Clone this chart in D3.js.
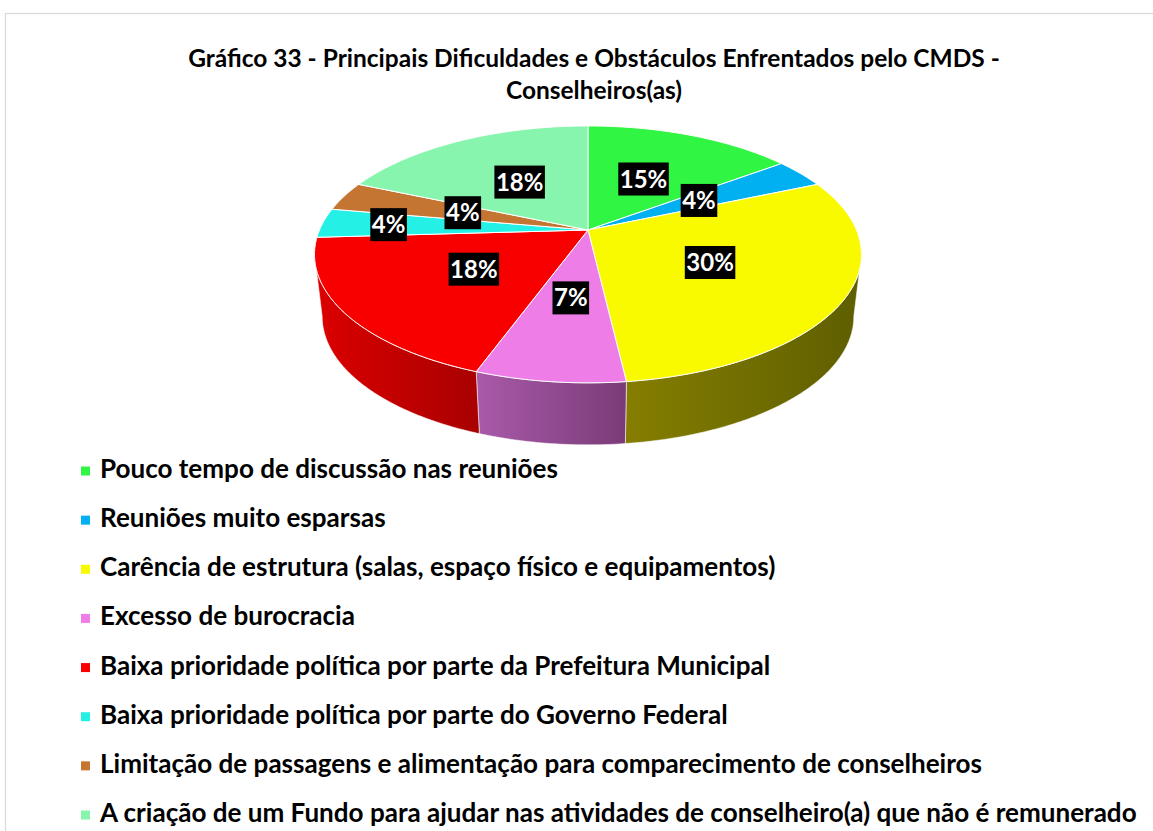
<!DOCTYPE html>
<html>
<head>
<meta charset="utf-8">
<script src="https://cdn.jsdelivr.net/npm/d3@7"></script>
<style>
  html, body { margin: 0; padding: 0; background: #ffffff; }
  svg { display: block; }
  text { font-family: Lato, "Open Sans", "Liberation Sans", sans-serif; font-weight: 700; }
</style>
</head>
<body>
<svg id="chart" width="1153" height="831"></svg>
<script>
// ---------- data ----------
const titleLines = [
  "Gráfico 33 - Principais Dificuldades e Obstáculos Enfrentados pelo CMDS -",
  "Conselheiros(as)"
];
const categories = [
  "Pouco tempo de discussão nas reuniões",
  "Reuniões muito esparsas",
  "Carência de estrutura (salas, espaço físico e equipamentos)",
  "Excesso de burocracia",
  "Baixa prioridade política por parte da Prefeitura Municipal",
  "Baixa prioridade política por parte do Governo Federal",
  "Limitação de passagens e alimentação para comparecimento de conselheiros",
  "A criação de um Fundo para ajudar nas atividades de conselheiro(a) que não é remunerado"
];
// slice sizes (percent)
const values = [14.8, 3.7, 29.6, 7.4, 18.5, 3.7, 3.7, 18.5];
// data-label texts as printed on the chart
const valueLabels = ["15%", "4%", "30%", "7%", "18%", "4%", "4%", "18%"];

// ---------- styles ----------
const topColors = ["#30f542", "#00b0f0", "#f9f900", "#ee7de8", "#f80000", "#24f0e6", "#c47532", "#87f5ad"];
const sideLight = ["#22b030", "#0080b0", "#857e00", "#a95aa9", "#dc0000", "#18b0a8", "#905520", "#60b080"];
const sideDark  = ["#187a20", "#005a7a", "#5e5e00", "#7a3b78", "#a80000", "#107a74", "#643a16", "#407a58"];

const svg = d3.select("#chart");

// chart border
svg.append("rect")
  .attr("x", 5.5).attr("y", 13.5)
  .attr("width", 1160).attr("height", 840)
  .attr("fill", "#ffffff")
  .attr("stroke", "#d9d9d9").attr("stroke-width", 1.2);

// ---------- title ----------
const title = svg.append("g");
const t1 = title.append("text")
  .attr("x", 594).attr("y", 67)
  .attr("text-anchor", "middle")
  .attr("font-size", 20)
  .attr("fill", "#000")
  .text(titleLines[0]);
const tw = t1.node().getComputedTextLength();
const titleSize = 20 * 812 / tw;
t1.attr("font-size", titleSize);
title.append("text")
  .attr("x", 594).attr("y", 99)
  .attr("text-anchor", "middle")
  .attr("font-size", titleSize)
  .attr("fill", "#000")
  .text(titleLines[1]);

// ---------- 3D pie ----------
const cx = 588, cy = 230, a = 268.5, b = 123.8, p = 0.19;
const thick = 62, bottomScale = 0.972;

function projTop(r, phi) {
  const u = r * Math.sin(phi), v = -r * Math.cos(phi);
  const w = 1 - p * v;
  return [cx + a * u / w, cy + b * v / w];
}
function projBottom(r, phi) {
  const [x, y] = projTop(r, phi);
  return [cx + (x - cx) * bottomScale, y + thick];
}

const pie = d3.pie().sort(null).value(d => d.value);
const data = values.map((v, i) => ({ value: v, i }));
const arcs = pie(data);

function arcPoints(f, s, e, r) {
  const n = Math.max(2, Math.ceil(Math.abs(e - s) / 0.01));
  const pts = [];
  for (let k = 0; k <= n; k++) pts.push(f(r, s + (e - s) * k / n));
  return pts;
}

const defs = svg.append("defs");
arcs.forEach((d, i) => {
  const g = defs.append("linearGradient")
    .attr("id", "side" + i)
    .attr("x1", 0).attr("y1", 0).attr("x2", 1).attr("y2", 0);
  g.append("stop").attr("offset", "0%").attr("stop-color", sideLight[i]);
  g.append("stop").attr("offset", "100%").attr("stop-color", sideDark[i]);
});

const line = d3.line();
const pieG = svg.append("g");

// visible front wall range
const phiA = Math.acos(-p), phiB = 2 * Math.PI - Math.acos(-p);
arcs.forEach((d, i) => {
  const s = Math.max(d.startAngle, phiA), e = Math.min(d.endAngle, phiB);
  if (e <= s) return;
  const top = arcPoints(projTop, s, e, 1);
  const bot = arcPoints(projBottom, s, e, 1).reverse();
  pieG.append("path")
    .attr("d", line(top.concat(bot)) + "Z")
    .attr("fill", `url(#side${i})`)
    .attr("stroke", "#ffffff").attr("stroke-width", 0.8).attr("stroke-opacity", 0.7);
});

// top faces
arcs.forEach((d, i) => {
  const pts = [projTop(0, 0)].concat(arcPoints(projTop, d.startAngle, d.endAngle, 1));
  pieG.append("path")
    .attr("d", line(pts) + "Z")
    .attr("fill", topColors[i])
    .attr("stroke", "#ffffff").attr("stroke-width", 1).attr("stroke-linejoin", "round");
});

// data labels
const labelG = svg.append("g");
arcs.forEach((d, i) => {
  const mid = (d.startAngle + d.endAngle) / 2;
  const r = (i === 5) ? 0.75 : 0.5;
  const [x, y] = projTop(r, mid);
  const g = labelG.append("g");
  const txt = g.append("text")
    .attr("x", x).attr("y", y + 8.5)
    .attr("text-anchor", "middle")
    .attr("font-size", 24)
    .attr("fill", "#ffffff")
    .text(valueLabels[i]);
  const w = txt.node().getComputedTextLength() + 3;
  g.insert("rect", "text")
    .attr("x", x - w / 2).attr("y", y - 16.5)
    .attr("width", w).attr("height", 33)
    .attr("fill", "#000000");
});

// ---------- legend ----------
const legG = svg.append("g");
const rowY = d3.scaleLinear().domain([0, categories.length - 1]).range([471, 815]);
const legTexts = categories.map((c, i) =>
  legG.append("text")
    .attr("x", 100).attr("y", rowY(i) + 7)
    .attr("font-size", 21)
    .attr("fill", "#000")
    .text(c)
);
const longest = d3.max(legTexts, t => t.node().getComputedTextLength());
const legSize = 21 * 1037 / longest;
legTexts.forEach(t => t.attr("font-size", legSize));
categories.forEach((c, i) => {
  legG.append("rect")
    .attr("x", 81).attr("y", rowY(i) - 4.5)
    .attr("width", 9).attr("height", 9)
    .attr("fill", topColors[i]);
});
</script>
</body>
</html>
